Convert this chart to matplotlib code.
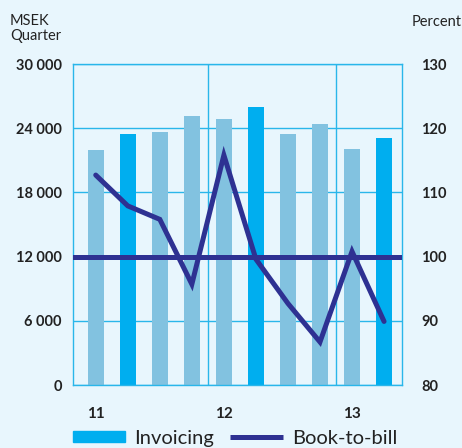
import numpy as np
import matplotlib
matplotlib.use('Agg')
import matplotlib.pyplot as plt
from matplotlib.patches import Patch
from matplotlib.lines import Line2D

plt.rcParams['font.family'] = ['Lato', 'DejaVu Sans']

# quarterly data, Q1 2011 .. Q2 2013 (as shown)
quarters = ['11', '', '', '', '12', '', '', '', '13', '']
invoicing = [22000, 23500, 23600, 25100, 24900, 26000, 23500, 24400, 22100, 23100]
book_to_bill = [112.7, 107.9, 105.8, 95.7, 115.8, 99.6, 92.7, 86.7, 100.8, 89.9]
highlight = [False, True, False, False, False, True, False, False, False, True]

left_ticks = [0, 6000, 12000, 18000, 24000, 30000]
left_labels = ['0', '6 000', '12 000', '18 000', '24 000', '30 000']
right_ticks = [80, 90, 100, 110, 120, 130]

bg = '#e8f6fd'
grid_c = '#29b6ea'
light = '#82c2e0'
bright = '#00aeef'
navy = '#2e3192'
txt = '#222222'

fig = plt.figure(figsize=(4.62, 4.48), dpi=100, facecolor=bg)
ax = fig.add_axes([73/462, 63/448, 329/462, 321/448], facecolor=bg)

x = np.arange(len(invoicing))
colors = [bright if h else light for h in highlight]
ax.bar(x, invoicing, width=0.5, color=colors, zorder=2)

ax.set_xlim(-0.71, 9.56)
ax.set_ylim(0, 30000)
ax.set_yticks(left_ticks)
ax.set_yticklabels(left_labels, fontsize=10.5, color=txt, fontweight='bold')
ax.yaxis.grid(True, color=grid_c, lw=1, zorder=1)
for xv in [3.5, 7.5]:
    ax.axvline(xv, color=grid_c, lw=1, zorder=1)
ax.set_xticks([i for i, q in enumerate(quarters) if q])
ax.set_xticklabels([q for q in quarters if q], fontsize=11, color=txt,
                   fontweight='bold')
ax.tick_params(axis='both', length=0)
ax.tick_params(axis='x', pad=16)
ax.tick_params(axis='y', pad=8)
for s in ax.spines.values():
    s.set_color(grid_c)
    s.set_linewidth(1)

ax2 = ax.twinx()
ax2.set_ylim(80, 130)
ax2.set_yticks(right_ticks)
ax2.set_yticklabels([str(v) for v in right_ticks], fontsize=10.5, color=txt,
                    fontweight='bold')
ax2.tick_params(axis='y', length=0, pad=14)
for s in ax2.spines.values():
    s.set_visible(False)
ax2.axhline(100, color=navy, lw=3.6, zorder=3)
ax2.plot(x, book_to_bill, color=navy, lw=3.6, solid_joinstyle='miter',
         solid_capstyle='round', zorder=4)

fig.text(10/462, 1 - 14/448, 'MSEK\nQuarter', fontsize=10.5, color=txt,
         va='top', ha='left', linespacing=1.05)
fig.text(1.0, 1 - 22/448, 'Percent', fontsize=10.5, color=txt,
         va='center', ha='right')

handles = [Patch(color=bright),
           Line2D([0], [0], color=navy, lw=3.6, solid_capstyle='butt')]
fig.legend(handles, ['Invoicing', 'Book-to-bill'], loc='center left',
           bbox_to_anchor=(73/462, 1 - 438/448), ncol=2, frameon=False,
           fontsize=14.5, handlelength=2.6, handleheight=0.5, columnspacing=0.8,
           handletextpad=0.45, borderpad=0, borderaxespad=0, labelcolor=txt)

fig.savefig('out.png', dpi=100, facecolor=bg)
